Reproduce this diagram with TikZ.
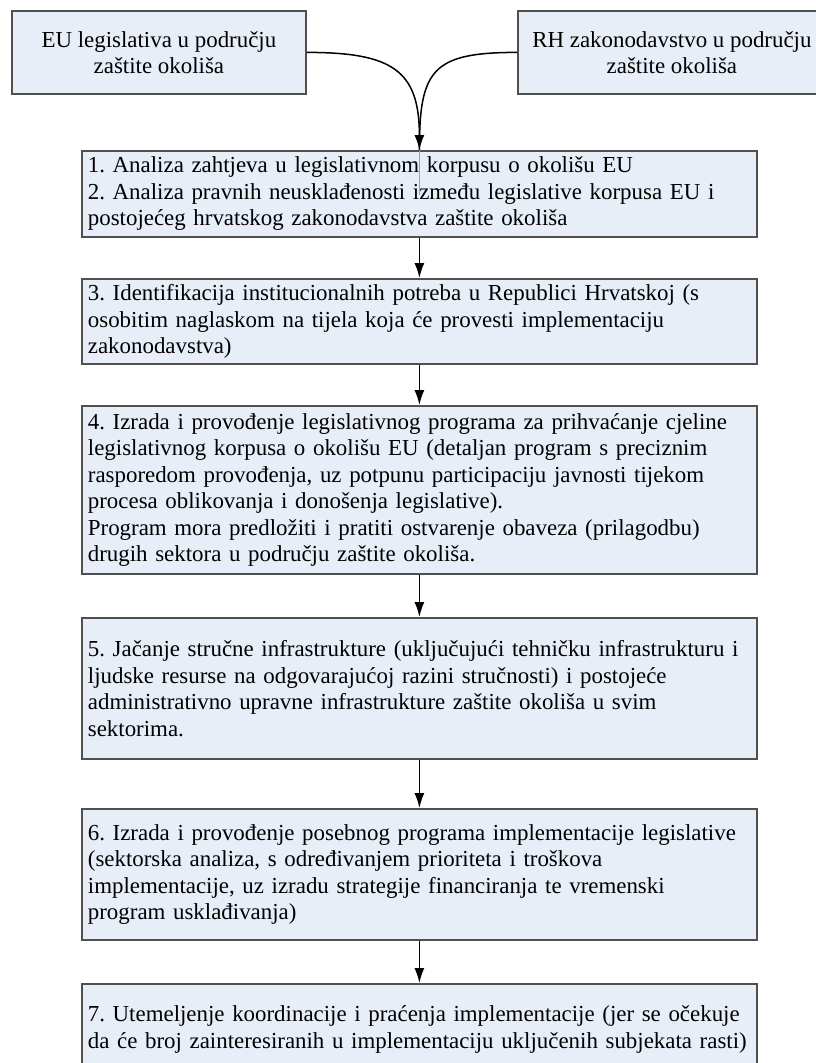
\documentclass[tikz,border=0pt]{standalone}
\usepackage{fontspec}
\setmainfont{Liberation Serif}
\usetikzlibrary{arrows.meta}
\definecolor{boxfill}{RGB}{232,238,248}
\definecolor{boxline}{RGB}{80,80,80}
\definecolor{artline}{RGB}{140,160,210}
\frenchspacing
\newcommand{\oneline}[1]{\mbox{#1}}
\begin{document}
\begin{tikzpicture}[x=1pt,y=-1pt,
  txt/.style={font=\fontsize{22.9}{26.5}\selectfont},
  box/.style={txt, draw=boxline, line width=1.8pt, fill=boxfill, rectangle,
    inner xsep=6pt, inner ysep=1pt, text width=663pt, align=left,
    anchor=north west},
  srcbox/.style={txt, draw=boxline, line width=1.8pt, fill=boxfill, rectangle,
    align=center, anchor=north west, minimum height=83pt, inner sep=0pt},
  conn/.style={line width=1.5pt, black},
  arr/.style={conn, -{Latex[length=15pt,width=10pt]}}]
\useasboundingbox (0,0) rectangle (816,1063);
\node[srcbox, minimum width=294pt] (srcL) at (11,10) {EU legislativa u području\\zaštite okoliša};
\node[srcbox, minimum width=308pt] (srcR) at (517,10) {RH zakonodavstvo u području\\zaštite okoliša};
\node[box, minimum height=86pt] (b1) at (81,150) {\oneline{1. Analiza zahtjeva u legislativnom korpusu o okolišu EU}\\\oneline{2. Analiza pravnih neusklađenosti između legislative korpusa EU i}\\\oneline{postojećeg hrvatskog zakonodavstva zaštite okoliša}};
\node[box, minimum height=85pt] (b3) at (81,278) {\oneline{3. Identifikacija institucionalnih potreba u Republici Hrvatskoj (s}\\\oneline{osobitim naglaskom na tijela koja će provesti implementaciju}\\\oneline{zakonodavstva)}};
\node[box, minimum height=168pt] (b4) at (81,405) {\oneline{4. Izrada i provođenje legislativnog programa za prihvaćanje cjeline}\\\oneline{legislativnog korpusa o okolišu EU (detaljan program s preciznim}\\\oneline{rasporedom provođenja, uz potpunu participaciju javnosti tijekom}\\\oneline{procesa oblikovanja i donošenja legislative).}\\\oneline{Program mora predložiti i pratiti ostvarenje obaveza (prilagodbu)}\\\oneline{drugih sektora u području zaštite okoliša.}};
\node[box, minimum height=141pt] (b5) at (81,617) {\oneline{5. Jačanje stručne infrastrukture (uključujući tehničku infrastrukturu i}\\\oneline{ljudske resurse na odgovarajućoj razini stručnosti) i postojeće}\\\oneline{administrativno upravne infrastrukture zaštite okoliša u svim}\\\oneline{sektorima.}};
\node[box, minimum height=131pt] (b6) at (81,808) {\oneline{6. Izrada i provođenje posebnog programa implementacije legislative}\\\oneline{(sektorska analiza, s određivanjem prioriteta i troškova}\\\oneline{implementacije, uz izradu strategije financiranja te vremenski}\\\oneline{program usklađivanja)}};
\node[box, minimum height=91pt] (b7) at (81,983) {\oneline{7. Utemeljenje koordinacije i praćenja implementacije (jer se očekuje}\\\oneline{da će broj zainteresiranih u implementaciju uključenih subjekata rasti)}};
\draw[artline, line width=1pt] (b1.north) -- ++(0,45);
\draw[conn] (srcR.west) .. controls +(-85,0) and +(0,-80) .. (b1.north);
\draw[arr] (srcL.east) .. controls +(85,0) and +(0,-80) .. (b1.north);
\draw[arr] (b1.south) -- (b3.north);
\draw[arr] (b3.south) -- (b4.north);
\draw[arr] (b4.south) -- (b5.north);
\draw[arr] (b5.south) -- (b6.north);
\draw[arr] (b6.south) -- (b7.north);
\end{tikzpicture}
\end{document}
